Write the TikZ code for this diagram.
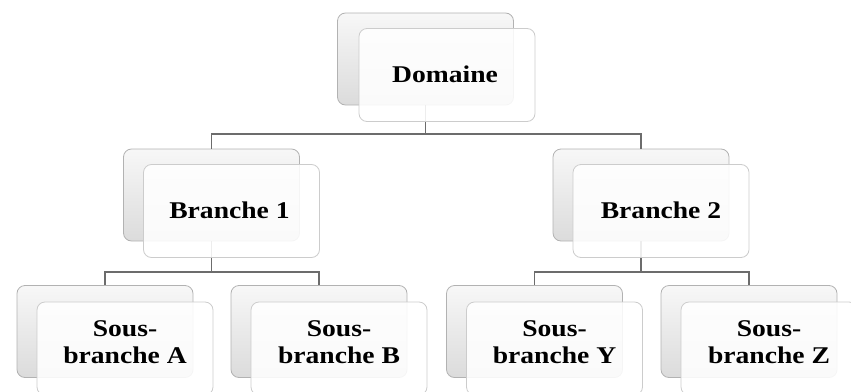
\documentclass[tikz,border=0pt]{standalone}
\usepackage{fontspec}
\setmainfont{Liberation Serif}
\newcommand\widen[1]{\scalebox{1.15}[1]{#1}}
\begin{document}
\begin{tikzpicture}[x=1pt,y=-1pt,
  backbox/.style={draw=gray!60, line width=0.8pt, rounded corners=8pt,
    top color=gray!6, bottom color=gray!28, minimum width=176pt, minimum height=92pt, inner sep=0pt},
  frontbox/.style={draw=gray!40, line width=0.8pt, rounded corners=8pt,
    fill=white, fill opacity=0.88, minimum width=176pt, minimum height=93pt, inner sep=0pt},
  lbl/.style={font=\bfseries\fontsize{24}{27}\selectfont, align=center, text=black, inner sep=0pt},
  conn/.style={draw=gray!85!black, line width=1.6pt}]
\useasboundingbox (0,0) rectangle (851,391);
% back boxes
\node[backbox] (dB) at (425.5,59) {};
\node[backbox] (b1B) at (211.5,195) {};
\node[backbox] (b2B) at (641,195) {};
\node[backbox] (aB) at (105,331.5) {};
\node[backbox] (bB) at (319,331.5) {};
\node[backbox] (yB) at (534.5,331.5) {};
\node[backbox] (zB) at (749,331.5) {};
% connectors
\coordinate (m0) at (0,134);
\coordinate (m1) at (0,272);
\draw[conn] (dB.south) -- (dB.south |- m0) -| (b1B.north);
\draw[conn] (dB.south |- m0) -| (b2B.north);
\draw[conn] (b1B.south) -- (b1B.south |- m1) -| (aB.north);
\draw[conn] (b1B.south |- m1) -| (bB.north);
\draw[conn] (b2B.south) -- (b2B.south |- m1) -| (yB.north);
\draw[conn] (b2B.south |- m1) -| (zB.north);
% front boxes
\node[frontbox] (dF) at (447,75) {};
\node[frontbox] (b1F) at (231.5,211) {};
\node[frontbox] (b2F) at (661,211) {};
\node[frontbox] (aF) at (125,348.5) {};
\node[frontbox] (bF) at (339,348.5) {};
\node[frontbox] (yF) at (554.5,348.5) {};
\node[frontbox] (zF) at (769,348.5) {};
% labels
\node[lbl] (dT) at (445,74) {\widen{Domaine}};
\node[lbl] (b1T) at (229.5,210) {\widen{Branche 1}};
\node[lbl] (b2T) at (661,210) {\widen{Branche 2}};
\node[lbl] (aT) at (125,342) {\widen{Sous-}\\\widen{branche A}};
\node[lbl] (bT) at (339,342) {\widen{Sous-}\\\widen{branche B}};
\node[lbl] (yT) at (554.5,342) {\widen{Sous-}\\\widen{branche Y}};
\node[lbl] (zT) at (769,342) {\widen{Sous-}\\\widen{branche Z}};
\end{tikzpicture}
\end{document}
